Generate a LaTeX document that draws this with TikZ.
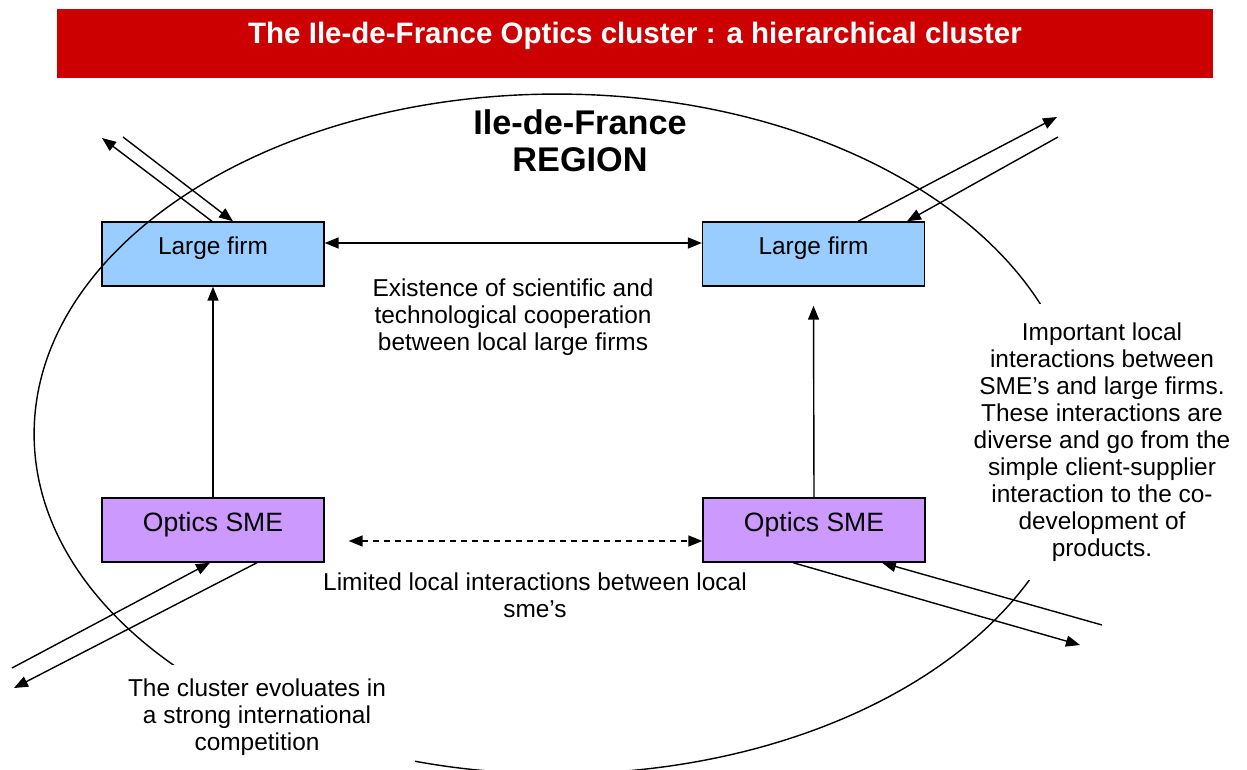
\documentclass[tikz,border=0pt]{standalone}
\usepackage{fontspec}
\setmainfont{Liberation Sans}
\usetikzlibrary{arrows.meta, positioning, calc}
\definecolor{bannerred}{HTML}{CC0000}
\definecolor{firmblue}{HTML}{99CCFF}
\definecolor{smeviolet}{HTML}{CC99FF}
\tikzset{box/.style={draw=black,line width=0.8pt,minimum width=4.44cm,
        minimum height=1.28cm,inner sep=0pt,text height=0.66cm,text depth=0.62cm,
        font=\fontsize{13.9}{15.4}\selectfont},
    firm/.style={box,fill=firmblue},
    sme/.style={box,fill=smeviolet,font=\fontsize{15.1}{16}\selectfont},
    note/.style={align=center,inner sep=0pt,font=\fontsize{13.9}{15.4}\selectfont},
    link/.style={draw,line width=0.8pt,-{Triangle[length=0.28cm,width=0.22cm]}},
    both link/.style={link,{Triangle[length=0.28cm,width=0.22cm]}-{Triangle[length=0.28cm,width=0.22cm]}}}

\begin{document}
\begin{tikzpicture}[x=0.02cm,y=-0.02cm]
    \useasboundingbox (0,0) rectangle (1247,770);

    % Banner
    \fill[bannerred] (57,9) rectangle (1213,78);
    \node[text=white,font=\fontsize{16.8}{18}\selectfont\bfseries] (banner) at (635,36)
        {The Ile-de-France Optics cluster : a hierarchical cluster};

    % Firms and SMEs
    \node[firm] (lfL) at (213,254) {Large firm};
    \node[firm] (lfR) at (813.5,254) {Large firm};
    \node[sme] (smeL) at (213,530) {Optics SME};
    \node[sme] (smeR) at (814,530) {Optics SME};

    % Region boundary
    \draw[line width=0.8pt] (557,434) ellipse [x radius=10.46cm, y radius=6.8cm];
    \node[align=center,font=\fontsize{19.5}{21}\selectfont\bfseries] (region) at (580,141)
        {Ile-de-France\\REGION};

    % Notes (white ones hide the boundary)
    \node[note] (coop) at (513,317)
        {Existence of scientific and\\technological cooperation\\between local large firms};
    \node[note] (limited) at (535,595)
        {Limited local interactions between local\\sme’s};
    \node[note,fill=white,minimum width=6.32cm,minimum height=2.08cm] (compet) at (257,717)
        {The cluster evoluates in\\a strong international\\competition};
    \node[note,fill=white,minimum width=5.5cm,minimum height=5.52cm] (local) at (1102,442)
        {Important local\\interactions between\\SME’s and large firms.\\These interactions are\\
         diverse and go from the\\simple client-supplier\\interaction to the co-\\
         development of\\products.};

    % Local links
    \draw[both link] ([yshift=0.22cm]lfL.east) -- ([yshift=0.22cm]lfR.west);
    \draw[both link,dash pattern=on 0.12cm off 0.1cm] ([xshift=0.48cm,yshift=-0.22cm]smeL.east)
        -- ([yshift=-0.22cm]smeR.west);
    \draw[link] (smeL) -- (lfL);
    \draw[link] (smeR.north) -- ([yshift=-0.38cm]lfR.south);

    % International links
    \coordinate (nwIn) at (123,137);
    \coordinate (nwOut) at (102,138);
    \draw[link] (nwIn) -- ([xshift=0.4cm]lfL.north);
    \draw[link] ([xshift=-0.02cm]lfL.north) -- (nwOut);
    \coordinate (neOut) at (1057,117);
    \coordinate (neIn) at (1058,137);
    \draw[link] ([xshift=0.89cm]lfR.north) -- (neOut);
    \draw[link] (neIn) -- ([xshift=1.87cm]lfR.north);
    \coordinate (swIn) at (12,668);
    \coordinate (swOut) at (14,688);
    \draw[link] (swIn) -- ([xshift=-0.06cm]smeL.south);
    \draw[link] ([xshift=0.88cm]smeL.south) -- (swOut);
    \coordinate (seOut) at (1080,645);
    \coordinate (seIn) at (1102,625);
    \draw[link] ([xshift=-0.42cm]smeR.south) -- (seOut);
    \draw[link] (seIn) -- ([xshift=1.36cm]smeR.south);
\end{tikzpicture}
\end{document}
